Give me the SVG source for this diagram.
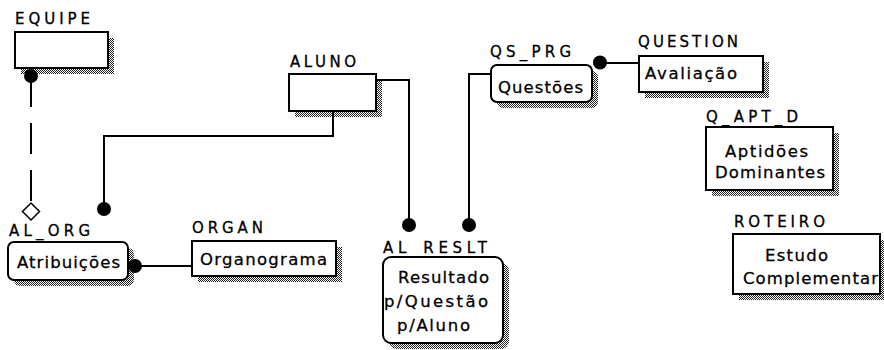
<svg xmlns="http://www.w3.org/2000/svg" width="884" height="350" viewBox="0 0 884 350">
  <defs>
    <!-- dithered grey used for the drop shadows -->
    <pattern id="dither" width="2" height="2" patternUnits="userSpaceOnUse">
      <rect x="0" y="0" width="1" height="1" fill="#222"/>
      <rect x="1" y="1" width="1" height="1" fill="#222"/>
    </pattern>
  </defs>
  <style>
    .box { fill: #fff; stroke: #000; stroke-width: 2; }
    .shadow { fill: url(#dither); stroke: none; }
    .lbl, .txt { font-family: "DejaVu Sans", "Liberation Sans", sans-serif; fill: #000; stroke: #000; stroke-width: 0.3; }
    .lbl { font-size: 15px; }
    .txt { font-size: 16.5px; }
    .wire { fill: none; stroke: #000; stroke-width: 2; }
    .dot { fill: #000; }
    .diamond { fill: #fff; stroke: #000; stroke-width: 1.5; }
  </style>
  <rect width="884" height="350" fill="#fff"/>

  <!-- independent entities -->
  <g id="EQUIPE">
    <rect class="shadow" x="21" y="38" width="93" height="36"/>
    <rect class="box" x="15" y="32" width="93" height="36"/>
    <text class="lbl" x="15" y="24" textLength="75" lengthAdjust="spacing">EQUIPE</text>
  </g>

  <g id="ALUNO">
    <rect class="shadow" x="295" y="80" width="87" height="37"/>
    <rect class="box" x="289" y="74" width="87" height="37"/>
    <text class="lbl" x="290" y="67" textLength="66" lengthAdjust="spacing">ALUNO</text>
  </g>

  <g id="QUESTION">
    <rect class="shadow" x="645" y="62" width="124" height="36"/>
    <rect class="box" x="639" y="56" width="124" height="36"/>
    <text class="lbl" x="638" y="47" textLength="100" lengthAdjust="spacing">QUESTION</text>
    <text class="txt" x="645" y="79" textLength="92" lengthAdjust="spacing">Avaliação</text>
  </g>

  <g id="Q_APT_D">
    <rect class="shadow" x="712" y="133" width="127" height="63"/>
    <rect class="box" x="706" y="127" width="127" height="63"/>
    <text class="lbl" x="706" y="122" textLength="92" lengthAdjust="spacing">Q_APT_D</text>
    <text class="txt" x="725" y="157" textLength="83" lengthAdjust="spacing">Aptidões</text>
    <text class="txt" x="715" y="178" textLength="110" lengthAdjust="spacing">Dominantes</text>
  </g>

  <g id="ORGAN">
    <rect class="shadow" x="198" y="247" width="144" height="35"/>
    <rect class="box" x="192" y="241" width="144" height="35"/>
    <text class="lbl" x="192" y="233" textLength="71" lengthAdjust="spacing">ORGAN</text>
    <text class="txt" x="200" y="265" textLength="127" lengthAdjust="spacing">Organograma</text>
  </g>

  <g id="ROTEIRO">
    <rect class="shadow" x="739" y="240" width="147" height="60"/>
    <rect class="box" x="733" y="234" width="147" height="60"/>
    <text class="lbl" x="734" y="227" textLength="91" lengthAdjust="spacing">ROTEIRO</text>
    <text class="txt" x="765" y="261" textLength="63" lengthAdjust="spacing">Estudo</text>
    <text class="txt" x="743" y="284" textLength="135" lengthAdjust="spacing">Complementar</text>
  </g>

  <!-- dependent entities (rounded) -->
  <g id="QS_PRG">
    <rect class="shadow" x="497" y="71" width="101" height="37" rx="6"/>
    <rect class="box" x="491" y="65" width="101" height="37" rx="6"/>
    <text class="lbl" x="490" y="57" textLength="81" lengthAdjust="spacing">QS_PRG</text>
    <text class="txt" x="498" y="93" textLength="85" lengthAdjust="spacing">Questões</text>
  </g>

  <g id="AL_ORG">
    <rect class="shadow" x="14" y="248" width="120" height="38" rx="6"/>
    <rect class="box" x="8" y="242" width="120" height="38" rx="6"/>
    <text class="lbl" x="9" y="236" textLength="81" lengthAdjust="spacing">AL_ORG</text>
    <text class="txt" x="17" y="268" textLength="103" lengthAdjust="spacing">Atribuições</text>
  </g>

  <g id="AL_RESLT">
    <rect class="shadow" x="389" y="263" width="120" height="86" rx="8"/>
    <rect class="box" x="383" y="257" width="120" height="86" rx="8"/>
    <text class="lbl" x="383" y="253" textLength="104" lengthAdjust="spacing">AL_RESLT</text>
    <text class="txt" x="398" y="283" textLength="91" lengthAdjust="spacing">Resultado</text>
    <text class="txt" x="384" y="307" textLength="104" lengthAdjust="spacing">p/Questão</text>
    <text class="txt" x="397" y="331" textLength="73" lengthAdjust="spacing">p/Aluno</text>
  </g>

  <!-- relationships -->
  <g id="connectors">
    <line class="wire" x1="31" y1="76" x2="31" y2="203" stroke-dasharray="31 16"/>
    <circle class="dot" cx="31" cy="76" r="7"/>
    <path class="diamond" d="M31 203 L39.5 211.5 L31 220 L22.5 211.5 Z"/>

    <polyline class="wire" points="333,111 333,136 104,136 104,209"/>
    <circle class="dot" cx="104" cy="209" r="7"/>

    <polyline class="wire" points="376,80 409,80 409,225"/>
    <circle class="dot" cx="409" cy="225" r="7"/>

    <polyline class="wire" points="491,74 469,74 469,225"/>
    <circle class="dot" cx="469" cy="225" r="7"/>

    <line class="wire" x1="600" y1="63" x2="639" y2="63"/>
    <circle class="dot" cx="600" cy="62.5" r="7"/>

    <line class="wire" x1="135" y1="266" x2="192" y2="266"/>
    <circle class="dot" cx="135" cy="266" r="7"/>
  </g>
</svg>
